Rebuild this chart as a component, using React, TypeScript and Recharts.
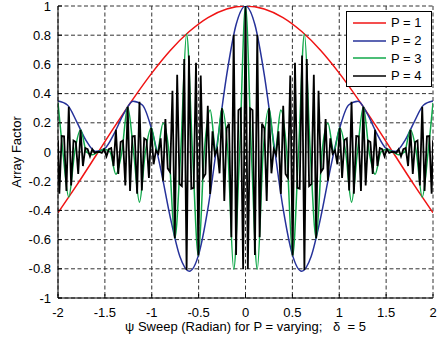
import { LineChart, Line, XAxis, YAxis, CartesianGrid, Label } from 'recharts';

const FONT = '"Liberation Sans", Arial, sans-serif';

const X_TICKS = [-2, -1.5, -1, -0.5, 0, 0.5, 1, 1.5, 2];
const Y_TICKS = [-1, -0.8, -0.6, -0.4, -0.2, 0, 0.2, 0.4, 0.6, 0.8, 1];

// P = 1
const P1_PSI = [-2, -1.8, -1.6, -1.4, -1.2, -1, -0.8, -0.6, -0.4, -0.2, 0, 0.2, 0.4, 0.6, 0.8, 1, 1.2, 1.4, 1.6, 1.8, 2];
const P1_AF = [-0.416, -0.227, -0.029, 0.17, 0.362, 0.54, 0.697, 0.825, 0.921, 0.98, 1, 0.98, 0.921, 0.825, 0.697, 0.54, 0.362, 0.17, -0.029, -0.227, -0.416];

// P = 2
const P2_PSI = [
  -2, -1.9, -1.8, -1.7, -1.6, -1.5, -1.4, -1.3, -1.2, -1.1, -1, -0.9, -0.8, -0.7, -0.6, -0.5, -0.4, -0.3, -0.2, -0.1,
  0, 0.1, 0.2, 0.3, 0.4, 0.5, 0.6, 0.7, 0.8, 0.9, 1, 1.1, 1.2, 1.3, 1.4, 1.5, 1.6, 1.7, 1.8, 1.9, 2,
];
const P2_AF = [
  0.349, 0.322, 0.207, 0.078, 0.004, 0.025, 0.128, 0.261, 0.348, 0.322, 0.153, -0.131, -0.455, -0.716, -0.817, -0.703, -0.383, 0.068, 0.53, 0.873,
  1, 0.873, 0.53, 0.068, -0.383, -0.703, -0.817, -0.716, -0.455, -0.131, 0.153, 0.322, 0.348, 0.261, 0.128, 0.025, 0.004, 0.078, 0.207, 0.322, 0.349,
];

// P = 3
const P3_PSI = [
  -2, -1.9478, -1.885, -1.8221, -1.7593, -1.6965, -1.6336, -1.5708, -1.508, -1.4451, -1.3823, -1.3195, -1.2566, -1.1938, -1.131, -1.0681,
  -1.0053, -0.9425, -0.8796, -0.8168, -0.754, -0.6912, -0.6283, -0.5655, -0.5027, -0.4398, -0.377, -0.3142, -0.2513, -0.1885, -0.1257, -0.0628,
  0,
  0.0628, 0.1257, 0.1885, 0.2513, 0.3142, 0.377, 0.4398, 0.5027, 0.5655, 0.6283, 0.6912, 0.754, 0.8168, 0.8796, 0.9425, 1.0053,
  1.0681, 1.131, 1.1938, 1.2566, 1.3195, 1.3823, 1.4451, 1.508, 1.5708, 1.6336, 1.6965, 1.7593, 1.8221, 1.885, 1.9478, 2,
];
const P3_AF = [
  0.337, 0, -0.309, 0, 0.152, 0, -0.019, 0, 0.019, 0, -0.152, 0, 0.309, 0, -0.344, 0,
  0.166, 0, 0.197, 0, -0.59, 0, 0.809, 0, -0.709, 0, 0.287, 0, 0.299, 0, -0.803, 0,
  1,
  0, -0.803, 0, 0.299, 0, 0.287, 0, -0.709, 0, 0.809, 0, -0.59, 0, 0.197, 0, 0.166,
  0, -0.344, 0, 0.309, 0, -0.152, 0, 0.019, 0, -0.019, 0, 0.152, 0, -0.309, 0, 0.337,
];

// P = 4
const P4_PSI = [
  -2, -1.9855, -1.9604, -1.9352, -1.9101, -1.885, -1.8598, -1.8347, -1.8096, -1.7844,
  -1.7593, -1.7342, -1.709, -1.6839, -1.6588, -1.6336, -1.6085, -1.5834, -1.5582, -1.5331,
  -1.508, -1.4828, -1.4577, -1.4326, -1.4074, -1.3823, -1.3572, -1.332, -1.3069, -1.2818,
  -1.2566, -1.2315, -1.2064, -1.1812, -1.1561, -1.131, -1.1058, -1.0807, -1.0556, -1.0304,
  -1.0053, -0.9802, -0.955, -0.9299, -0.9048, -0.8796, -0.8545, -0.8294, -0.8042, -0.7791,
  -0.754, -0.7288, -0.7037, -0.6786, -0.6535, -0.6283, -0.6032, -0.5781, -0.5529, -0.5278,
  -0.5027, -0.4775, -0.4524, -0.4273, -0.4021, -0.377, -0.3519, -0.3267, -0.3016, -0.2765,
  -0.2513, -0.2262, -0.2011, -0.1759, -0.1508, -0.1257, -0.1005, -0.0754, -0.0503, -0.0251,
  0,
  0.0251, 0.0503, 0.0754, 0.1005, 0.1257, 0.1508, 0.1759, 0.2011, 0.2262, 0.2513,
  0.2765, 0.3016, 0.3267, 0.3519, 0.377, 0.4021, 0.4273, 0.4524, 0.4775, 0.5027,
  0.5278, 0.5529, 0.5781, 0.6032, 0.6283, 0.6535, 0.6786, 0.7037, 0.7288, 0.754,
  0.7791, 0.8042, 0.8294, 0.8545, 0.8796, 0.9048, 0.9299, 0.955, 0.9802, 1.0053,
  1.0304, 1.0556, 1.0807, 1.1058, 1.131, 1.1561, 1.1812, 1.2064, 1.2315, 1.2566,
  1.2818, 1.3069, 1.332, 1.3572, 1.3823, 1.4074, 1.4326, 1.4577, 1.4828, 1.508,
  1.5331, 1.5582, 1.5834, 1.6085, 1.6336, 1.6588, 1.6839, 1.709, 1.7342, 1.7593,
  1.7844, 1.8096, 1.8347, 1.8598, 1.885, 1.9101, 1.9352, 1.9604, 1.9855, 2,
];
const P4_AF = [
  0.081, -0.286, 0.109, 0.107, -0.267, 0.309, -0.229, 0.078, 0.068, -0.15,
  0.152, -0.096, 0.027, 0.019, -0.03, 0.019, -0.006, 0, 0, -0.006,
  0.019, -0.03, 0.019, 0.027, -0.096, 0.152, -0.15, 0.068, 0.078, -0.229,
  0.309, -0.267, 0.107, 0.109, -0.286, 0.344, -0.264, 0.093, 0.082, -0.177,
  0.166, -0.084, 0.011, -0.012, 0.094, -0.197, 0.226, -0.112, -0.137, 0.42,
  -0.59, 0.529, -0.219, -0.233, 0.637, -0.809, 0.661, -0.251, -0.245, 0.612,
  -0.709, 0.524, -0.177, -0.151, 0.317, -0.287, 0.142, -0.018, 0.019, -0.146,
  0.299, -0.336, 0.162, 0.194, -0.583, 0.803, -0.705, 0.287, 0.299, -0.802,
  1,
  -0.802, 0.299, 0.287, -0.705, 0.803, -0.583, 0.194, 0.162, -0.336, 0.299,
  -0.146, 0.019, -0.018, 0.142, -0.287, 0.317, -0.151, -0.177, 0.524, -0.709,
  0.612, -0.245, -0.251, 0.661, -0.809, 0.637, -0.233, -0.219, 0.529, -0.59,
  0.42, -0.137, -0.112, 0.226, -0.197, 0.094, -0.012, 0.011, -0.084, 0.166,
  -0.177, 0.082, 0.093, -0.264, 0.344, -0.286, 0.109, 0.107, -0.267, 0.309,
  -0.229, 0.078, 0.068, -0.15, 0.152, -0.096, 0.027, 0.019, -0.03, 0.019,
  -0.006, 0, 0, -0.006, 0.019, -0.03, 0.019, 0.027, -0.096, 0.152,
  -0.15, 0.068, 0.078, -0.229, 0.309, -0.267, 0.107, 0.109, -0.286, 0.081,
];

const SERIES = [
  { name: 'P = 1', color: '#f01414', psi: P1_PSI, af: P1_AF, curve: 'monotone', width: 1.5 },
  { name: 'P = 2', color: '#26329a', psi: P2_PSI, af: P2_AF, curve: 'monotone', width: 1.5 },
  { name: 'P = 3', color: '#10a84a', psi: P3_PSI, af: P3_AF, curve: 'monotone', width: 1.5 },
  { name: 'P = 4', color: '#000000', psi: P4_PSI, af: P4_AF, curve: 'linear', width: 1.8 },
] as const;

const X_LABEL = 'ψ Sweep (Radian) for P = varying;\u00a0\u00a0\u00a0δ\u00a0 = 5';

function YTitle(props: any) {
  const { x, y, height } = props.viewBox;
  const cx = x + 16;
  const cy = y + height / 2;
  return (
    <text x={cx} y={cy} transform={`rotate(-90 ${cx} ${cy})`} textAnchor="middle" dominantBaseline="central" fontSize={13} fill="#000">
      Array Factor
    </text>
  );
}

function MatlabLegend() {
  return (
    <div
      style={{
        position: 'absolute',
        left: 346,
        top: 11,
        width: 86,
        height: 76,
        boxSizing: 'border-box',
        border: '1px solid #000',
        background: '#fff',
        paddingTop: 2,
      }}
    >
      {SERIES.map((s) => (
        <div key={s.name} style={{ display: 'flex', alignItems: 'center', height: 17.7 }}>
          <svg width={44} height={4} style={{ display: 'block' }}>
            <line x1={6} x2={39} y1={2} y2={2} stroke={s.color} strokeWidth={1.5} />
          </svg>
          <span style={{ fontSize: 13, lineHeight: '13px', color: '#000' }}>{s.name}</span>
        </div>
      ))}
    </div>
  );
}

export default function App() {
  return (
    <div style={{ position: 'absolute', left: 0, top: 0, width: 445, height: 340, background: '#fff', fontFamily: FONT }}>
      <LineChart width={445} height={340} margin={{ top: 6, right: 12, bottom: 0, left: 0 }} style={{ fontFamily: FONT }}>
        <CartesianGrid stroke="#333" strokeDasharray="4 2.5" strokeWidth={1} />
        <XAxis
          dataKey="x"
          type="number"
          domain={[-2, 2]}
          ticks={X_TICKS}
          interval={0}
          allowDataOverflow
          height={42}
          tickSize={-4}
          tickMargin={14}
          stroke="#000"
          tick={{ fill: '#000', fontSize: 13 }}
        >
          <Label value={X_LABEL} position="insideBottom" offset={9} fontSize={13} fill="#000" />
        </XAxis>
        <XAxis
          xAxisId="top"
          orientation="top"
          dataKey="x"
          type="number"
          domain={[-2, 2]}
          ticks={X_TICKS}
          interval={0}
          allowDataOverflow
          height={0}
          tickSize={-4}
          tick={false}
          stroke="#000"
        />
        <YAxis
          type="number"
          domain={[-1, 1]}
          ticks={Y_TICKS}
          interval={0}
          allowDataOverflow
          width={58}
          tickSize={-4}
          tickMargin={11}
          stroke="#000"
          tick={{ fill: '#000', fontSize: 13 }}
        >
          <Label content={YTitle} />
        </YAxis>
        <YAxis
          yAxisId="right"
          orientation="right"
          type="number"
          domain={[-1, 1]}
          ticks={Y_TICKS}
          interval={0}
          allowDataOverflow
          width={0}
          tickSize={-4}
          tick={false}
          stroke="#000"
        />
        {SERIES.map((s) => (
          <Line
            key={s.name}
            data={s.psi.map((x, i) => ({ x, y: s.af[i] }))}
            dataKey="y"
            name={s.name}
            type={s.curve}
            stroke={s.color}
            strokeWidth={s.width}
            dot={false}
            activeDot={false}
            isAnimationActive={false}
          />
        ))}
      </LineChart>
      <MatlabLegend />
    </div>
  );
}
